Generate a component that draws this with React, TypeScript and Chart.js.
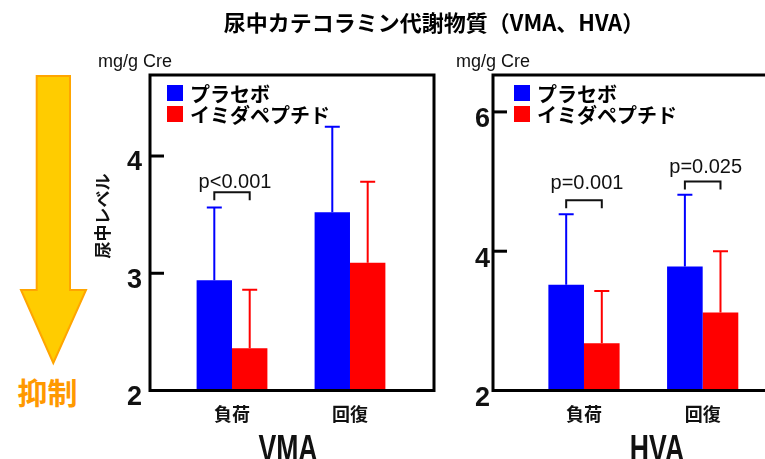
import React, { useEffect, useRef } from 'react';
import { Chart, registerables } from 'chart.js';

Chart.register(...registerables);

// ---------- data ----------
const categories = ['負荷', '回復'];
const seriesNames = ['プラセボ', 'イミダペプチド'];
const seriesColors = ['#0000FF', '#FF0000'];

const vmaPlacebo = [2.94, 3.52];
const vmaPlaceboErr = [0.62, 0.73];
const vmaImida = [2.36, 3.09];
const vmaImidaErr = [0.5, 0.69];
const vmaTicks = [2, 3, 4];
const vmaPLabels = ['p<0.001', ''];
const vmaBracket = [3.69, null];
const vmaPText = [3.73, null];

const hvaPlacebo = [3.52, 3.78];
const hvaPlaceboErr = [1.01, 1.03];
const hvaImida = [2.68, 3.12];
const hvaImidaErr = [0.75, 0.88];
const hvaTicks = [2, 4, 6];
const hvaPLabels = ['p=0.001', 'p=0.025'];
const hvaBracket = [4.73, 5.0];
const hvaPText = [4.89, 5.13];

const TITLE = '尿中カテコラミン代謝物質（VMA、HVA）';
const UNIT = 'mg/g Cre';
const Y_TITLE = '尿中レベル';
const SUPPRESS = '抑制';

// ---------- layout ----------
const H = 459;
const AREA_TOP = 75;
const AREA_BOTTOM = 390.5;
const CJK = "'Noto Sans CJK JP', 'Noto Sans', sans-serif";
const LAT = "'Liberation Sans', Arial, sans-serif";

type PanelSpec = {
  key: string;
  name: string;
  placebo: number[];
  placeboErr: number[];
  imida: number[];
  imidaErr: number[];
  ticks: number[];
  yMax: number;
  xMin: number;
  xMax: number;
  pLabels: string[];
  bracket: (number | null)[];
  pText: (number | null)[];
  width: number;
  left: number;
  areaLeft: number;
  areaRight: number;
  tickPad: number;
  labelOffset: number;
  legendDx: number;
  unitX: number;
  nameCx: number;
  closed: boolean;
  yTitle: boolean;
};

const panels: PanelSpec[] = [
  {
    key: 'vma',
    name: 'VMA',
    placebo: vmaPlacebo,
    placeboErr: vmaPlaceboErr,
    imida: vmaImida,
    imidaErr: vmaImidaErr,
    ticks: vmaTicks,
    yMax: 4.691,
    xMin: 0.305,
    xMax: 2.712,
    pLabels: vmaPLabels,
    bracket: vmaBracket,
    pText: vmaPText,
    width: 445,
    left: 0,
    areaLeft: 150,
    areaRight: 434,
    tickPad: 8,
    labelOffset: 7,
    legendDx: 17,
    unitX: 98,
    nameCx: 288,
    closed: true,
    yTitle: true,
  },
  {
    key: 'hva',
    name: 'HVA',
    placebo: hvaPlacebo,
    placeboErr: hvaPlaceboErr,
    imida: hvaImida,
    imidaErr: hvaImidaErr,
    ticks: hvaTicks,
    yMax: 6.53,
    xMin: 0.2334,
    xMax: 2.525,
    pLabels: hvaPLabels,
    bracket: hvaBracket,
    pText: hvaPText,
    width: 320,
    left: 445,
    areaLeft: 48,
    areaRight: 320,
    tickPad: 3,
    labelOffset: 8,
    legendDx: 21,
    unitX: 11,
    nameCx: 212,
    closed: false,
    yTitle: false,
  },
];

function decor(spec: PanelSpec) {
  const series: [number[], number[]][] = [
    [spec.placebo, spec.placeboErr],
    [spec.imida, spec.imidaErr],
  ];
  return {
    id: 'decor-' + spec.key,
    afterDatasetsDraw(chart: any) {
      const { ctx } = chart;
      const y = chart.scales.y;
      ctx.save();
      series.forEach(([vals, errs], d) => {
        const meta = chart.getDatasetMeta(d);
        ctx.strokeStyle = seriesColors[d];
        ctx.lineWidth = 2;
        meta.data.forEach((bar: any, i: number) => {
          const x = bar.x;
          const yb = bar.y;
          const yt = y.getPixelForValue(vals[i] + errs[i]);
          ctx.beginPath();
          ctx.moveTo(x, yb);
          ctx.lineTo(x, yt);
          ctx.moveTo(x - 7.5, yt);
          ctx.lineTo(x + 7.5, yt);
          ctx.stroke();
        });
      });
      ctx.restore();
    },
    afterDraw(chart: any) {
      const { ctx, chartArea: a } = chart;
      const y = chart.scales.y;
      ctx.save();
      // frame
      ctx.strokeStyle = '#000';
      ctx.lineWidth = 3;
      ctx.lineJoin = 'miter';
      ctx.beginPath();
      if (spec.closed) {
        ctx.rect(a.left, a.top, a.right - a.left, a.bottom - a.top);
      } else {
        ctx.moveTo(a.right + 5, a.top);
        ctx.lineTo(a.left, a.top);
        ctx.lineTo(a.left, a.bottom);
        ctx.lineTo(a.right + 5, a.bottom);
      }
      ctx.stroke();
      // inner ticks
      spec.ticks.forEach((t) => {
        const py = y.getPixelForValue(t);
        if (Math.abs(py - a.bottom) < 3) return;
        ctx.beginPath();
        ctx.moveTo(a.left, py);
        ctx.lineTo(a.left + 14, py);
        ctx.stroke();
      });
      // legend
      const rows = [93, 114];
      seriesNames.forEach((n, d) => {
        const sx = a.left + spec.legendDx;
        ctx.fillStyle = seriesColors[d];
        ctx.fillRect(sx, rows[d] - 8, 16, 16);
        ctx.fillStyle = '#000';
        ctx.font = `bold 20px ${CJK}`;
        ctx.textAlign = 'left';
        ctx.textBaseline = 'middle';
        ctx.fillText(n, sx + 23, rows[d] + 1);
      });
      // brackets and p-values
      const m0 = chart.getDatasetMeta(0);
      const m1 = chart.getDatasetMeta(1);
      ctx.strokeStyle = '#111';
      ctx.lineWidth = 2;
      spec.pLabels.forEach((lab, i) => {
        const lv = spec.bracket[i];
        const tv = spec.pText[i];
        if (!lab || lv == null || tv == null) return;
        const x1 = m0.data[i].x;
        const x2 = m1.data[i].x;
        const yt = y.getPixelForValue(lv);
        ctx.beginPath();
        ctx.moveTo(x1, yt + 8);
        ctx.lineTo(x1, yt);
        ctx.lineTo(x2, yt);
        ctx.lineTo(x2, yt + 8);
        ctx.stroke();
        ctx.fillStyle = '#111';
        ctx.font = `20px ${LAT}`;
        ctx.textAlign = 'center';
        ctx.textBaseline = 'alphabetic';
        ctx.fillText(lab, (x1 + x2) / 2 + 3, y.getPixelForValue(tv));
      });
      // unit
      ctx.fillStyle = '#111';
      ctx.font = `18px ${LAT}`;
      ctx.textAlign = 'left';
      ctx.textBaseline = 'alphabetic';
      ctx.fillText(UNIT, spec.unitX, 67);
      // y title
      if (spec.yTitle) {
        ctx.save();
        ctx.translate(103, 216);
        ctx.rotate(-Math.PI / 2);
        ctx.font = `bold 17px ${CJK}`;
        ctx.textAlign = 'center';
        ctx.textBaseline = 'middle';
        ctx.fillText(Y_TITLE, 0, 0);
        ctx.restore();
      }
      // panel name
      ctx.save();
      ctx.translate(spec.nameCx, 461);
      ctx.scale(0.72, 1);
      ctx.font = `bold 37px ${LAT}`;
      ctx.textAlign = 'center';
      ctx.textBaseline = 'alphabetic';
      ctx.fillStyle = '#111';
      ctx.fillText(spec.name, 0, 0);
      ctx.restore();
      ctx.restore();
    },
  };
}

function buildConfig(spec: PanelSpec): any {
  return {
    type: 'bar',
    data: {
      datasets: [
        {
          label: seriesNames[0],
          data: spec.placebo.map((v, i) => ({ x: i + 1, y: v })),
          backgroundColor: seriesColors[0],
          borderWidth: 0,
          categoryPercentage: 0.6,
          barPercentage: 1,
        },
        {
          label: seriesNames[1],
          data: spec.imida.map((v, i) => ({ x: i + 1, y: v })),
          backgroundColor: seriesColors[1],
          borderWidth: 0,
          categoryPercentage: 0.6,
          barPercentage: 1,
        },
      ],
    },
    options: {
      responsive: false,
      animation: false,
      devicePixelRatio: 1,
      layout: { padding: { top: AREA_TOP, right: spec.width - spec.areaRight, left: 0, bottom: 0 } },
      plugins: {
        legend: { display: false },
        tooltip: { enabled: false },
        title: { display: false },
      },
      scales: {
        x: {
          type: 'linear',
          min: spec.xMin,
          max: spec.xMax,
          offset: false,
          grid: { display: false, drawTicks: false },
          border: { display: false },
          afterBuildTicks: (s: any) => {
            s.ticks = categories.map((_, i) => ({ value: i + 1 }));
          },
          afterFit: (s: any) => {
            s.height = H - AREA_BOTTOM;
          },
          ticks: {
            callback: (v: any) => categories[Math.round(Number(v)) - 1] ?? '',
            font: { family: CJK, size: 18, weight: 'bold' },
            color: '#111',
            padding: 13,
            maxRotation: 0,
            autoSkip: false,
          },
        },
        y: {
          type: 'linear',
          min: 2,
          max: spec.yMax,
          grid: { display: false, drawTicks: false },
          border: { display: false },
          afterBuildTicks: (s: any) => {
            s.ticks = spec.ticks.map((v) => ({ value: v }));
          },
          afterFit: (s: any) => {
            s.width = spec.areaLeft;
          },
          ticks: {
            callback: (v: any) => String(v),
            font: { family: LAT, size: 27, weight: 'bold' },
            color: '#111',
            padding: spec.tickPad,
            labelOffset: spec.labelOffset,
          },
        },
      },
    },
    plugins: [decor(spec)],
  };
}

function Panel({ spec }: { spec: PanelSpec }) {
  const ref = useRef<HTMLCanvasElement>(null);
  useEffect(() => {
    const chart = new Chart(ref.current as HTMLCanvasElement, buildConfig(spec));
    return () => chart.destroy();
  }, [spec]);
  return (
    <canvas
      ref={ref}
      width={spec.width}
      height={H}
      style={{ position: 'absolute', left: spec.left, top: 0, width: spec.width, height: H }}
    />
  );
}

export default function App() {
  useEffect(() => {
    document.body.style.margin = '0';
  }, []);
  return (
    <div style={{ position: 'relative', width: 765, height: H, overflow: 'hidden', background: '#fff' }}>
      <svg
        width={100}
        height={H}
        style={{ position: 'absolute', left: 0, top: 0 }}
      >
        <polygon
          points="36.7,76 70,76 70,290 86,290 53.3,363 21,290 36.7,290"
          fill="#FFCC00"
          stroke="#FFA500"
          strokeWidth={2}
        />
      </svg>
      <div
        style={{
          position: 'absolute',
          left: 17.5,
          top: 376,
          font: `bold 30px ${CJK}`,
          lineHeight: '30px',
          color: '#FF9900',
          whiteSpace: 'nowrap',
        }}
      >
        {SUPPRESS}
      </div>
      {panels.map((p) => (
        <Panel key={p.key} spec={p} />
      ))}
      <div
        style={{
          position: 'absolute',
          left: 434,
          top: 8,
          transform: 'translateX(-50%)',
          font: `bold 22px ${CJK}`,
          lineHeight: '26px',
          color: '#000',
          whiteSpace: 'nowrap',
        }}
      >
        {TITLE}
      </div>
    </div>
  );
}
